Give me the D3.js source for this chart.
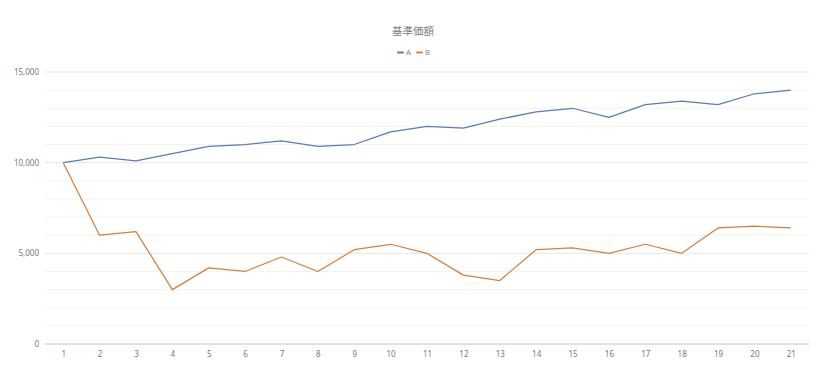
<!DOCTYPE html>
<html><head><meta charset="utf-8">
<script src="https://cdn.jsdelivr.net/npm/d3@7"></script>
<style>body{margin:0;background:#fff;}svg{display:block;font-family:"Noto Sans CJK JP","Noto Sans",sans-serif;}</style>
</head><body><svg id="c" width="825" height="379"></svg>
<script>
const title = "基準価額";
const categories = ["1","2","3","4","5","6","7","8","9","10","11","12","13","14","15","16","17","18","19","20","21"];
const seriesNames = ["A","B"];
const seriesA = [10000,10300,10100,10500,10900,11000,11200,10900,11000,11700,12000,11900,12400,12800,13000,12500,13200,13400,13200,13800,14000];
const seriesB = [10000,6000,6200,3000,4200,4000,4800,4000,5200,5500,5000,3800,3500,5200,5300,5000,5500,5000,6400,6500,6400];
const yTicks = [0,5000,10000,15000];
const colors = ["#5a7bb3","#d3813f"];

const svg = d3.select("#c");
const m = {l:45, r:16, t:72, b:35};
const W = 825, H = 379;
const x = d3.scalePoint().domain(categories).range([m.l, W-m.r]).padding(0.5);
const y = d3.scaleLinear().domain([0,15000]).range([344, 72]);

// minor gridlines
const minor = d3.range(1000, 15001, 1000).filter(v => v % 5000 !== 0);
svg.append("g").selectAll("line").data(minor).join("line")
  .attr("x1", m.l).attr("x2", W-m.r).attr("y1", d=>y(d)).attr("y2", d=>y(d))
  .attr("stroke", "#f3f3f3").attr("stroke-width", 1);
svg.append("g").selectAll("line").data(yTicks.filter(d=>d>0)).join("line")
  .attr("x1", m.l).attr("x2", W-m.r).attr("y1", d=>y(d)).attr("y2", d=>y(d))
  .attr("stroke", "#e6e6e6").attr("stroke-width", 1);

// y axis labels
const yAxis = d3.axisLeft(y).tickValues(yTicks).tickSize(0).tickPadding(6).tickFormat(d3.format(","));
const gy = svg.append("g").attr("transform", `translate(${m.l},0)`).call(yAxis);
gy.select(".domain").remove();
gy.selectAll("text").attr("fill","#777").style("font-size","8px").attr("font-family","'Noto Sans',sans-serif");

// x axis
const xAxis = d3.axisBottom(x).tickSize(0).tickPadding(7);
const gx = svg.append("g").attr("transform", `translate(0,${y(0)})`).call(xAxis);
gx.select(".domain").attr("stroke","#c4c4c4").attr("d", `M${m.l},0H${W-m.r}`);
gx.selectAll("text").attr("fill","#777").style("font-size","8px").attr("font-family","'Noto Sans',sans-serif");

// lines
const line = d3.line().x((d,i)=>x(categories[i])).y(d=>y(d));
[seriesA, seriesB].forEach((s,k)=>{
  svg.append("path").datum(s).attr("d", line).attr("fill","none")
    .attr("stroke", colors[k]).attr("stroke-width", 1.25).attr("stroke-linejoin","round");
});

// title
svg.append("text").attr("x", 413).attr("y", 35).attr("text-anchor","middle")
  .attr("fill","#808080").style("font-size","10.5px").text(title);

// legend
const lg = svg.append("g");
const lx = [398, 417];
seriesNames.forEach((n,k)=>{
  lg.append("line").attr("x1", lx[k]).attr("x2", lx[k]+5).attr("y1", 52.5).attr("y2", 52.5)
    .attr("stroke", colors[k]).attr("stroke-width", 2).attr("stroke-linecap","round");
  lg.append("text").attr("x", lx[k]+8).attr("y", 55).attr("fill","#808080")
    .style("font-size","7.5px").attr("font-family","'Noto Sans',sans-serif").text(n);
});
</script></body></html>
